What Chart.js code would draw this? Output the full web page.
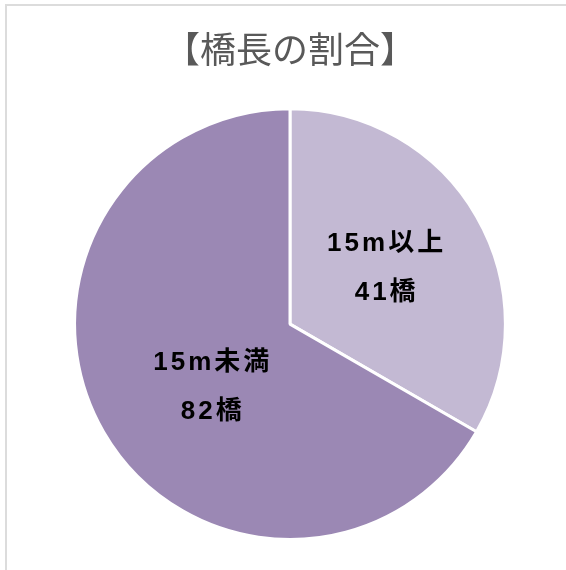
<!DOCTYPE html>
<html>
<head>
<meta charset="utf-8">
<script src="https://cdn.jsdelivr.net/npm/chart.js@4"></script>
<style>
    html, body { margin: 0; padding: 0; background: #fff; }
    #wrap { position: relative; width: 566px; height: 570px; overflow: hidden; }
    #frame { position: absolute; left: 5px; top: 4px; width: 600px; height: 600px;
             border-top: 2px solid #dcdcdc; border-left: 2px solid #dcdcdc; }
    canvas { position: absolute; left: 0; top: 0; }
</style>
</head>
<body>
<div id="wrap">
    <div id="frame"></div>
    <canvas id="pieChart" width="566" height="570"></canvas>
</div>
<script>
const categories = ['15m以上', '15m未満'];
const bridgeCounts = [41, 82];
const unit = '橋';
const sliceColors = ['#c3b9d3', '#9b88b4'];

// label placement: share of the radius, and a small turn (degrees) off the slice middle
const labelRadius = [0.51, 0.47];
const labelTurn = [0, -9];

const sliceLabels = {
    id: 'sliceLabels',
    afterDatasetsDraw(chart) {
        const ctx = chart.ctx;
        const arcs = chart.getDatasetMeta(0).data;
        ctx.save();
        ctx.fillStyle = '#000';
        ctx.font = "bold 26px 'Liberation Sans', 'Noto Sans CJK JP', sans-serif";
        ctx.textAlign = 'center';
        ctx.textBaseline = 'middle';
        ctx.letterSpacing = '3px';
        arcs.forEach((arc, i) => {
            const p = arc.getProps(['x', 'y', 'startAngle', 'endAngle', 'outerRadius'], true);
            const mid = (p.startAngle + p.endAngle) / 2 + labelTurn[i] * Math.PI / 180;
            const r = p.outerRadius * labelRadius[i];
            const cx = p.x + Math.cos(mid) * r;
            const cy = p.y + Math.sin(mid) * r;
            ctx.fillText(categories[i], cx + 1.5, cy - 25);
            ctx.fillText(bridgeCounts[i] + unit, cx + 1.5, cy + 24);
        });
        ctx.restore();
    }
};

new Chart(document.getElementById('pieChart'), {
    type: 'pie',
    data: {
        labels: categories,
        datasets: [{
            data: bridgeCounts,
            backgroundColor: sliceColors,
            borderColor: '#ffffff',
            borderWidth: 3
        }]
    },
    options: {
        responsive: false,
        animation: false,
        layout: { padding: { left: 73, right: 59, bottom: 29, top: 0 } },
        plugins: {
            legend: { display: false },
            tooltip: { enabled: false },
            title: {
                display: true,
                text: '【橋長の割合】',
                color: '#595959',
                font: { size: 36, family: "'Noto Sans CJK JP', sans-serif", weight: 'normal' },
                padding: { top: 28, bottom: 36 }
            }
        }
    },
    plugins: [sliceLabels]
});
</script>
</body>
</html>
